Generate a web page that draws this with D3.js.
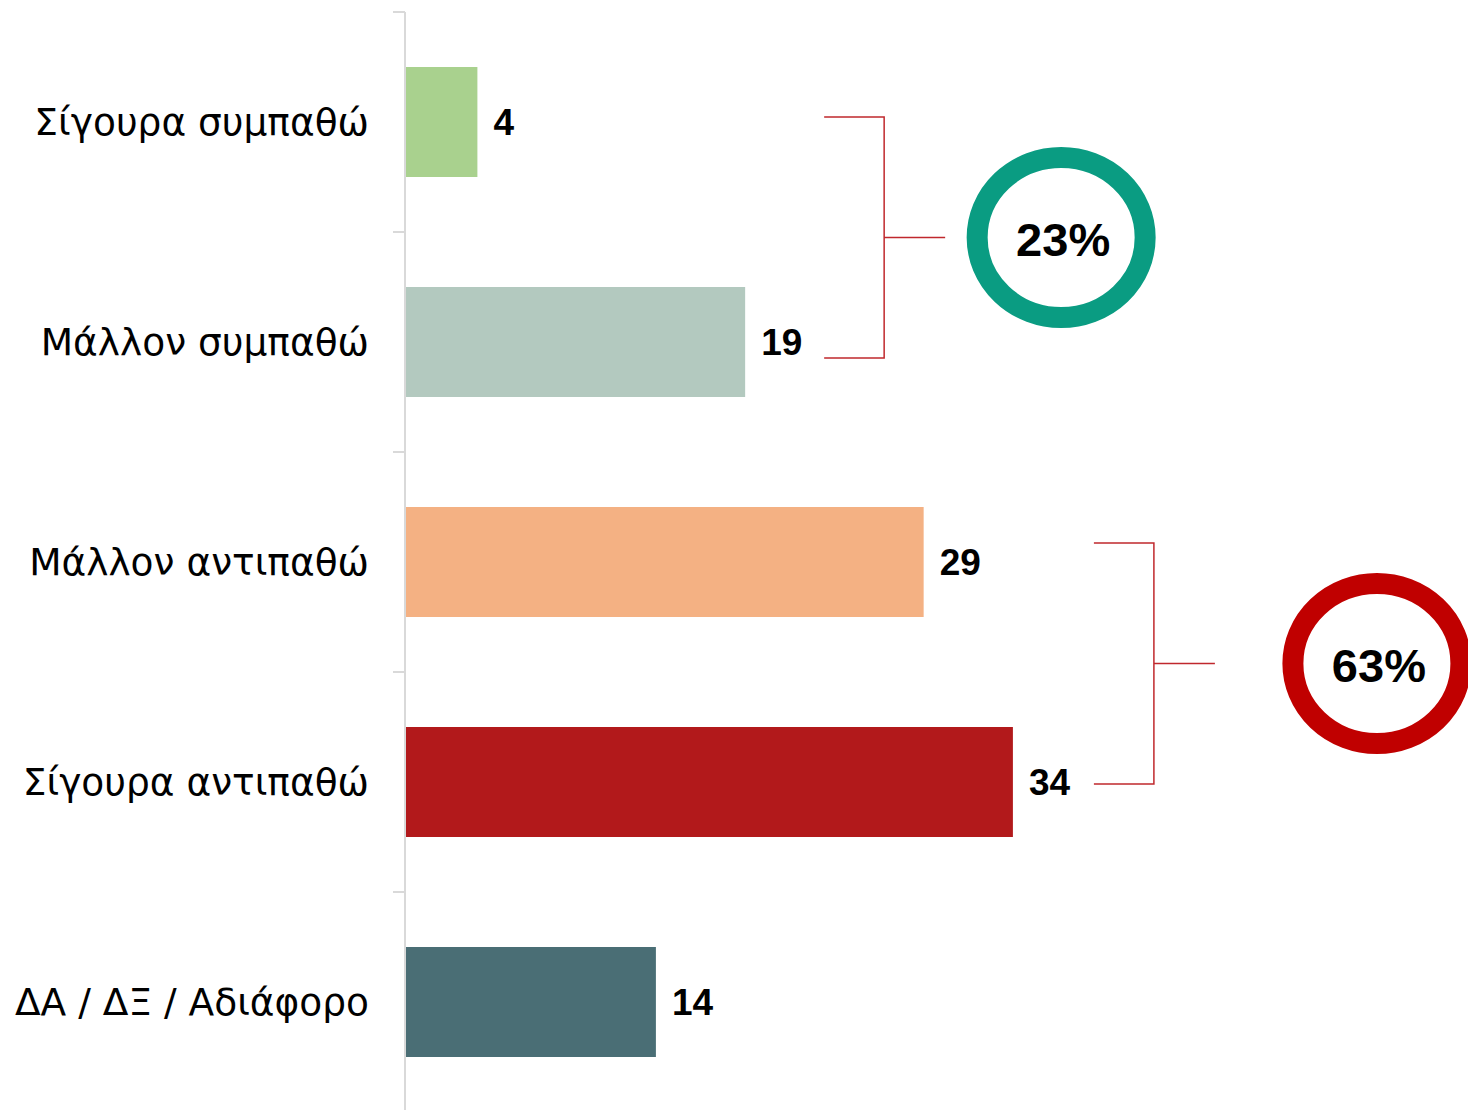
<!DOCTYPE html>
<html lang="el">
<head>
  <meta charset="utf-8">
  <title>Συμπάθεια</title>
  <script src="https://d3js.org/d3.v7.min.js"></script>
  <style>
    body { margin: 0; background: #fff; }
    svg { display: block; }
  </style>
</head>
<body>
<div id="chart"></div>

<script>
// data
var categories = ["Σίγουρα συμπαθώ", "Μάλλον συμπαθώ", "Μάλλον αντιπαθώ", "Σίγουρα αντιπαθώ", "ΔΑ / ΔΞ / Αδιάφορο"];
var values = [4, 19, 29, 34, 14];
var barColors = ["#a9d18e", "#b3c9bf", "#f4b183", "#b2191b", "#4a6e75"];

// grouped totals shown in the rings
var groupLabels = ["23%", "63%"];
var groupMembers = [[0, 1], [2, 3]];
var groupColors = ["#0a9c82", "#c00000"];

// set the dimensions of the graph
var width = 1468, height = 1110;
var axisX = 405;

var svg = d3.select("#chart")
  .append("svg")
    .attr("width", width)
    .attr("height", height);

// scales
var y = d3.scaleBand()
    .domain(categories)
    .range([12, 1112])
    .paddingInner(0.5)
    .paddingOuter(0.25);

var x = d3.scaleLinear()
    .domain([0, 40])
    .range([axisX, axisX + 714]);

// vertical axis line + ticks between categories
var boundaries = d3.range(categories.length + 1).map(function(i) { return 12 + i * y.step(); });
svg.append("line")
    .attr("x1", axisX).attr("x2", axisX)
    .attr("y1", 12).attr("y2", 1112)
    .style("stroke", "#d9d9d9")
    .style("stroke-width", 2);
svg.selectAll(".tick")
  .data(boundaries)
  .enter()
  .append("line")
    .attr("class", "tick")
    .attr("x1", axisX - 12).attr("x2", axisX)
    .attr("y1", function(d) { return d; })
    .attr("y2", function(d) { return d; })
    .style("stroke", "#d9d9d9")
    .style("stroke-width", 2);

// bars
svg.selectAll(".bar")
  .data(values)
  .enter()
  .append("rect")
    .attr("class", "bar")
    .attr("x", x(0) + 1)
    .attr("y", function(d, i) { return y(categories[i]); })
    .attr("width", function(d) { return x(d) - x(0); })
    .attr("height", y.bandwidth())
    .style("fill", function(d, i) { return barColors[i]; });

// category labels
svg.selectAll(".cat")
  .data(categories)
  .enter()
  .append("text")
    .attr("class", "cat")
    .attr("x", axisX - 36)
    .attr("y", function(d) { return y(d) + y.bandwidth() / 2; })
    .attr("text-anchor", "end")
    .attr("dominant-baseline", "central")
    .style("font-family", "'DejaVu Sans', sans-serif")
    .style("font-size", "37.5px")
    .style("fill", "#000")
    .text(function(d) { return d; });

// value labels
svg.selectAll(".val")
  .data(values)
  .enter()
  .append("text")
    .attr("class", "val")
    .attr("x", function(d) { return x(d) + 17; })
    .attr("y", function(d, i) { return y(categories[i]) + y.bandwidth() / 2; })
    .attr("dominant-baseline", "central")
    .style("font-family", "'Liberation Sans', Arial, sans-serif")
    .style("font-weight", "bold")
    .style("font-size", "37px")
    .style("fill", "#000")
    .text(function(d) { return d; });

// brackets + rings (hand placed like the original slide)
var bracketOffsets = [[50, 71], [36, 57]];   // top/bottom offset inside first/last band
var ringGap = [116, 162];

groupMembers.forEach(function(members, g) {
  var first = categories[members[0]], last = categories[members[members.length - 1]];
  var top = y(first) + bracketOffsets[g][0];
  var bottom = y(last) + bracketOffsets[g][1];
  var mid = (top + bottom) / 2;
  var maxVal = d3.max(members, function(i) { return values[i]; });
  var bx0 = x(maxVal) + 80 + 2 * g, bx1 = bx0 + 60, stub = bx1 + 61;

  svg.append("path")
      .attr("d", "M" + bx0 + "," + top + "H" + bx1 + "V" + bottom + "H" + bx0 +
                 "M" + bx1 + "," + mid + "H" + stub)
      .style("fill", "none")
      .style("stroke", "#c0282d")
      .style("stroke-width", 1.5);

  var cx = stub + ringGap[g];
  svg.append("ellipse")
      .attr("cx", cx).attr("cy", mid)
      .attr("rx", 84).attr("ry", 80)
      .style("fill", "#fff")
      .style("stroke", groupColors[g])
      .style("stroke-width", 21);

  svg.append("text")
      .attr("x", cx + 2).attr("y", mid + 2)
      .attr("text-anchor", "middle")
      .attr("dominant-baseline", "central")
      .style("font-family", "'Liberation Sans', Arial, sans-serif")
      .style("font-weight", "bold")
      .style("font-size", "47px")
      .style("fill", "#000")
      .text(groupLabels[g]);
});
</script>
</body>
</html>
